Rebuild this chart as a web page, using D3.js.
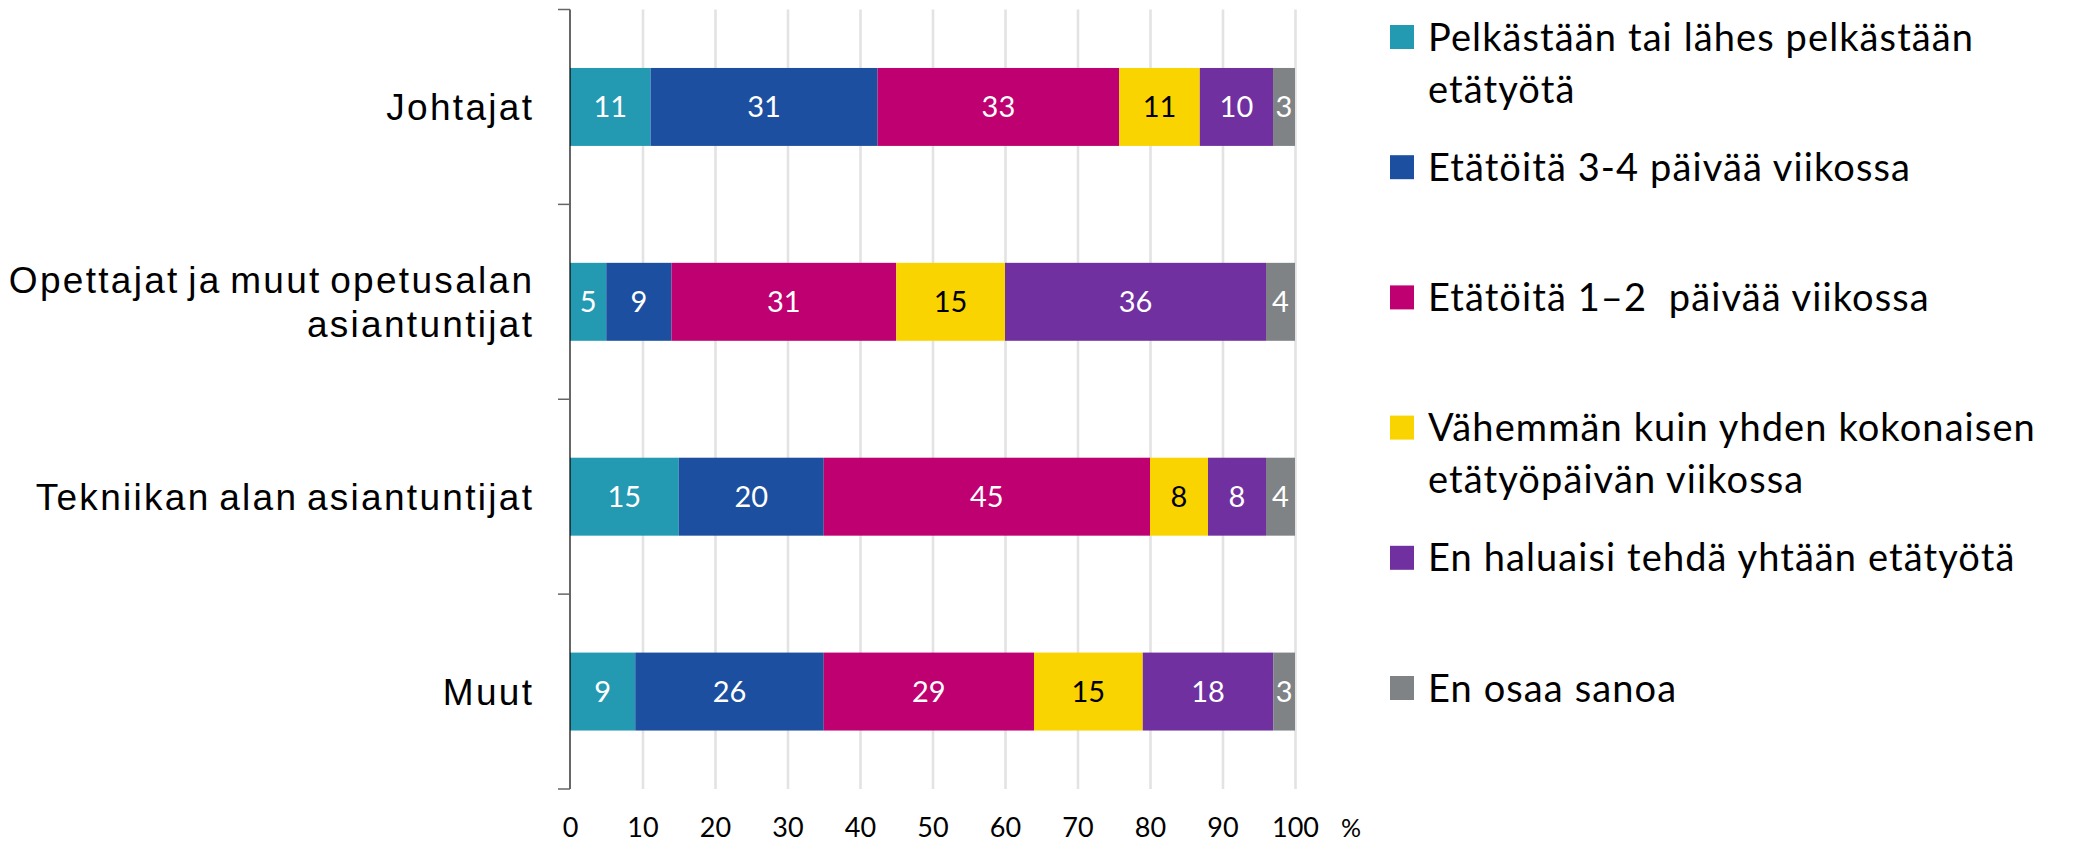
<!DOCTYPE html>
<html><head><meta charset="utf-8">
<script src="https://cdn.jsdelivr.net/npm/d3@7"></script>
<style>
body{margin:0;background:#fff}
text{white-space:pre}
</style>
</head><body>
<svg id="chart" width="2080" height="842"></svg>
<script>
// ---- data ----
const categories = ["Johtajat", "Opettajat ja muut opetusalan\nasiantuntijat", "Tekniikan alan asiantuntijat", "Muut"];
const seriesNames = [
  "Pelkästään tai lähes pelkästään\netätyötä",
  "Etätöitä 3-4 päivää viikossa",
  "Etätöitä 1–2  päivää viikossa",
  "Vähemmän kuin yhden kokonaisen\netätyöpäivän viikossa",
  "En haluaisi tehdä yhtään etätyötä",
  "En osaa sanoa"
];
const seriesColors = ["#2399B2", "#1C4F9F", "#BF0070", "#FAD400", "#7030A0", "#7F8386"];
const labelColors = ["#fff", "#fff", "#fff", "#000", "#fff", "#fff"];
const pelkastaan = [11, 5, 15, 9];
const paiva34 = [31, 9, 20, 26];
const paiva12 = [33, 31, 45, 29];
const vahemman = [11, 15, 8, 15];
const eiHalua = [10, 36, 8, 18];
const eosaa = [3, 4, 4, 3];
const xTicks = [0, 10, 20, 30, 40, 50, 60, 70, 80, 90, 100];
const unitLabel = "%";

// ---- build table ----
const seriesArrays = [pelkastaan, paiva34, paiva12, vahemman, eiHalua, eosaa];
const keys = seriesArrays.map((_, i) => "s" + i);
const table = categories.map((c, ci) => {
  const row = {cat: c};
  seriesArrays.forEach((arr, si) => row[keys[si]] = arr[ci]);
  return row;
});
const stacked = d3.stack().keys(keys).offset(d3.stackOffsetExpand)(table);

// ---- layout ----
const svg = d3.select("#chart");
const plotTop = 9.5, plotBottom = 789, x0 = 570, x1 = 1295;
const x = d3.scaleLinear().domain([0, 100]).range([x0, x1]);
const y = d3.scaleBand().domain(categories).range([plotTop, plotBottom]).paddingInner(0.6).paddingOuter(0.3);

// gridlines
const grid = svg.append("g").attr("transform", `translate(0,${plotBottom})`)
  .call(d3.axisBottom(x).tickValues(xTicks.filter(t => t > 0)).tickSize(-(plotBottom - plotTop)).tickFormat(""));
grid.select(".domain").remove();
grid.selectAll("line").attr("stroke", "#e3e3e3").attr("stroke-width", 2.6);

// bars
const layers = svg.append("g").selectAll("g").data(stacked).join("g")
  .attr("fill", (d, i) => seriesColors[i]);
layers.selectAll("rect").data(d => d).join("rect")
  .attr("x", d => x(d[0] * 100))
  .attr("width", d => x(d[1] * 100) - x(d[0] * 100))
  .attr("y", d => y(d.data.cat))
  .attr("height", y.bandwidth());

// value labels
stacked.forEach((layer, si) => {
  svg.append("g").selectAll("text").data(layer).join("text")
    .attr("x", d => (x(d[0] * 100) + x(d[1] * 100)) / 2)
    .attr("y", d => y(d.data.cat) + y.bandwidth() / 2)
    .attr("dy", "0.36em")
    .attr("text-anchor", "middle")
    .attr("font-family", "Lato, 'Open Sans', sans-serif")
    .attr("font-size", 29)
    .attr("fill", labelColors[si])
    .text(d => d.data[layer.key]);
});

// x tick labels
const xa = svg.append("g").attr("transform", `translate(0,${plotBottom})`)
  .call(d3.axisBottom(x).tickValues(xTicks).tickSize(0).tickPadding(0).tickFormat(d3.format("d")));
xa.select(".domain").remove();
xa.selectAll("text").attr("y", 38).attr("dy", "0.36em")
  .attr("font-family", "Lato, 'Open Sans', sans-serif").attr("font-size", 27).attr("fill", "#000");
svg.append("text").attr("x", 1341).attr("y", plotBottom + 39).attr("dy", "0.36em")
  .attr("font-family", "Lato, 'Open Sans', sans-serif").attr("font-size", 25).text(unitLabel);

// y axis line and boundary ticks
svg.append("line").attr("x1", x0).attr("x2", x0).attr("y1", plotTop).attr("y2", plotBottom)
  .attr("stroke", "#000").attr("stroke-width", 1.2);
const boundaries = categories.map(c => y(c) - y.step() * y.paddingInner() / 2).concat([plotBottom]);
svg.append("g").selectAll("line").data(boundaries).join("line")
  .attr("x1", x0 - 12).attr("x2", x0).attr("y1", d => d).attr("y2", d => d)
  .attr("stroke", "#666").attr("stroke-width", 1.5);

// category labels
const ls = 2.3;
const catG = svg.append("g");
categories.forEach(c => {
  const lines = c.split("\n");
  const cy = y(c) + y.bandwidth() / 2;
  const lh = 44;
  const t = catG.append("text")
    .attr("text-anchor", "end")
    .attr("font-family", "'Liberation Sans', Arial, sans-serif")
    .attr("font-size", 37)
    .attr("letter-spacing", ls)
    .attr("word-spacing", -4)
    .attr("fill", "#000");
  lines.forEach((ln, i) => {
    t.append("tspan").attr("x", 532 + ls).attr("y", cy + (i - (lines.length - 1) / 2) * lh)
      .attr("dy", "0.36em").text(ln);
  });
});

// legend
const legendY0 = 37, legendStep = 130.2;
const lg = svg.append("g");
seriesNames.forEach((name, i) => {
  const cy = legendY0 + i * legendStep;
  lg.append("rect").attr("x", 1390).attr("y", cy - 12).attr("width", 24).attr("height", 24)
    .attr("fill", seriesColors[i]);
  const t = lg.append("text").attr("font-family", "Lato, 'Open Sans', sans-serif")
    .attr("font-size", 38).attr("letter-spacing", 1.1).attr("fill", "#000");
  name.split("\n").forEach((ln, j) => {
    t.append("tspan").attr("x", 1428).attr("y", cy + j * 52).attr("dy", "0.36em").text(ln);
  });
});
</script>
</body></html>
